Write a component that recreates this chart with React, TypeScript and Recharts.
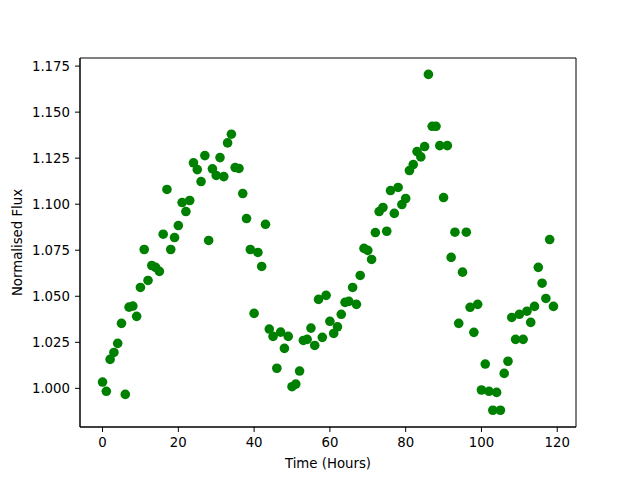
import React from 'react';
import { ScatterChart, Scatter, XAxis, YAxis, ReferenceArea } from 'recharts';

const hours = [
  0, 1, 2, 3, 4, 5, 6, 7, 8, 9, 10, 11, 12, 13, 14, 15, 16, 17, 18, 19,
  20, 21, 22, 23, 24, 25, 26, 27, 28, 29, 30, 31, 32, 33, 34, 35, 36, 37, 38, 39,
  40, 41, 42, 43, 44, 45, 46, 47, 48, 49, 50, 51, 52, 53, 54, 55, 56, 57, 58, 59,
  60, 61, 62, 63, 64, 65, 66, 67, 68, 69, 70, 71, 72, 73, 74, 75, 76, 77, 78, 79,
  80, 81, 82, 83, 84, 85, 86, 87, 88, 89, 90, 91, 92, 93, 94, 95, 96, 97, 98, 99,
  100, 101, 102, 103, 104, 105, 106, 107, 108, 109, 110, 111, 112, 113, 114, 115, 116, 117, 118, 119,
];

const flux = [
  1.0034, 0.9984, 1.0157, 1.0195, 1.0244, 1.0353, 0.9967, 1.0441, 1.0447, 1.0391,
  1.0548, 1.0754, 1.0586, 1.0667, 1.0657, 1.0635, 1.0837, 1.1080, 1.0754, 1.0819,
  1.0884, 1.1009, 1.0960, 1.1020, 1.1225, 1.1188, 1.1123, 1.1264, 1.0803, 1.1192,
  1.1156, 1.1253, 1.1150, 1.1333, 1.1380, 1.1199, 1.1194, 1.1058, 1.0922, 1.0754,
  1.0407, 1.0738, 1.0662, 1.0891, 1.0322, 1.0282, 1.0109, 1.0305, 1.0217, 1.0282,
  1.0009, 1.0023, 1.0094, 1.0260, 1.0266, 1.0327, 1.0233, 1.0483, 1.0277, 1.0505,
  1.0364, 1.0298, 1.0334, 1.0402, 1.0467, 1.0472, 1.0548, 1.0456, 1.0613, 1.0760,
  1.0749, 1.0700, 1.0846, 1.0960, 1.0982, 1.0853, 1.1074, 1.0950, 1.1091, 1.0998,
  1.1031, 1.1183, 1.1215, 1.1286, 1.1257, 1.1313, 1.1705, 1.1423, 1.1423, 1.1318,
  1.1036, 1.1318, 1.0711, 1.0848, 1.0353, 1.0631, 1.0848, 1.0440, 1.0304, 1.0456,
  0.9991, 1.0132, 0.9984, 0.9881, 0.9978, 0.9881, 1.0081, 1.0147, 1.0385, 1.0266,
  1.0402, 1.0266, 1.0419, 1.0358, 1.0445, 1.0657, 1.0571, 1.0488, 1.0808, 1.0445,
];

const xTicks = [0, 20, 40, 60, 80, 100, 120];
const yTicks = [1.0, 1.025, 1.05, 1.075, 1.1, 1.125, 1.15, 1.175];

const xDomain: [number, number] = [-5.95, 124.95];
const yDomain: [number, number] = [0.979, 1.1794];

const data = hours.map((h, i) => ({ x: h, y: flux[i] }));

const FONT = 'DejaVu Sans';
const tickStyle = { fill: '#000', fontSize: 13.3, fontFamily: FONT };

const Dot = (props: any) => {
  const { cx, cy } = props;
  if (cx == null || cy == null) return null;
  return <circle cx={cx} cy={cy} r={4.8} fill="#008000" />;
};

const XLabel = (props: any) => {
  const vb = props.viewBox || {};
  const cx = vb.x + vb.width / 2;
  return (
    <text x={cx} y={vb.y + 41} textAnchor="middle" fontFamily={FONT} fontSize={13.3} fill="#000">
      Time (Hours)
    </text>
  );
};

const YLabel = (props: any) => {
  const vb = props.viewBox || {};
  const cy = vb.y + vb.height / 2;
  const cx = 17;
  return (
    <text
      x={cx}
      y={cy}
      transform={`rotate(-90 ${cx} ${cy})`}
      textAnchor="middle"
      dominantBaseline="central"
      fontFamily={FONT}
      fontSize={13.3}
      fill="#000"
    >
      Normalised Flux
    </text>
  );
};

export default function App() {
  return (
    <div style={{ position: 'absolute', left: 0, top: 0, width: 640, height: 480, background: '#fff' }}>
      <ScatterChart width={640} height={480} margin={{ top: 58, right: 64, bottom: 0, left: 0 }}>
        <XAxis
          type="number"
          dataKey="x"
          domain={xDomain}
          ticks={xTicks}
          allowDataOverflow
          height={53}
          tickSize={5}
          tickMargin={6}
          tick={tickStyle}
          axisLine={{ stroke: '#000', strokeWidth: 1 }}
          tickLine={{ stroke: '#000', strokeWidth: 1 }}
          label={<XLabel />}
        />
        <YAxis
          type="number"
          dataKey="y"
          domain={yDomain}
          ticks={yTicks}
          allowDataOverflow
          width={80}
          tickSize={5}
          tickMargin={5}
          tick={tickStyle}
          tickFormatter={(v: number) => v.toFixed(3)}
          axisLine={{ stroke: '#000', strokeWidth: 1 }}
          tickLine={{ stroke: '#000', strokeWidth: 1 }}
          label={<YLabel />}
        />
        <ReferenceArea
          x1={xDomain[0]}
          x2={xDomain[1]}
          y1={yDomain[0]}
          y2={yDomain[1]}
          fill="none"
          fillOpacity={0}
          stroke="#000"
          strokeWidth={1}
          ifOverflow="visible"
        />
        <Scatter data={data} shape={<Dot />} isAnimationActive={false} />
      </ScatterChart>
    </div>
  );
}
